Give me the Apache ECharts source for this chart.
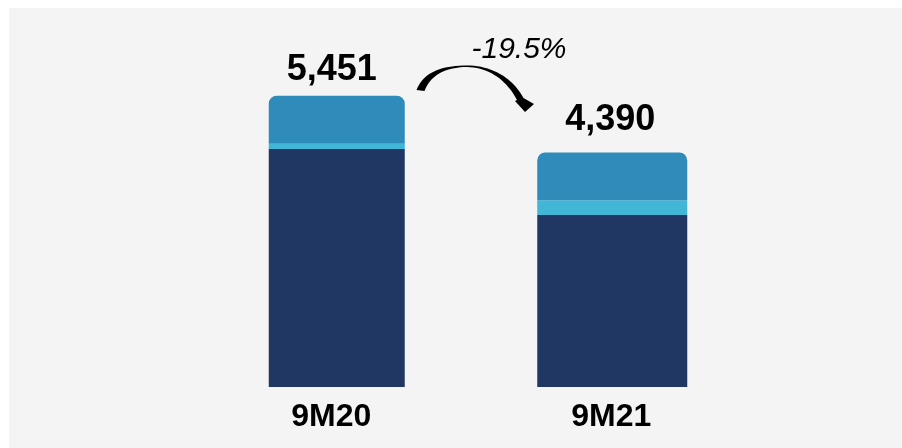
<!DOCTYPE html>
<html>
<head>
<meta charset="utf-8">
<script src="https://cdn.jsdelivr.net/npm/echarts@6/dist/echarts.min.js"></script>
<style>
  html, body { margin: 0; padding: 0; background: #ffffff; }
  #chart { width: 902px; height: 448px; }
</style>
</head>
<body>
<div id="chart"></div>
<script>
// ---- data ----
const categories = ['9M20', '9M21'];
const baseSegment = [4453, 3220];   // dark navy
const midSegment = [100, 276];      // light cyan
const topSegment = [898, 894];      // mid blue
const totals = [5451, 4390];
const changeLabel = '-19.5%';

// ---- styles ----
const FONT = '"Liberation Sans", Arial, sans-serif';
const colors = { base: '#213763', mid: '#41b6d6', top: '#2e8bba' };
const barWidths = [136, 150];
const labelOffsets = [[-5, -8], [-2, -14]];
const axisPads = [[0, 11, 0, 0], [0, 2, 0, 0]];

function only(arr, i) { return arr.map((v, j) => (j === i ? v : '-')); }

const series = [];
categories.forEach((c, i) => {
  series.push({
    type: 'bar', xAxisIndex: i, stack: 's' + i, barWidth: barWidths[i],
    data: only(baseSegment, i), itemStyle: { color: colors.base }, silent: true
  });
  series.push({
    type: 'bar', xAxisIndex: i, stack: 's' + i, barWidth: barWidths[i],
    data: only(midSegment, i), itemStyle: { color: colors.mid }, silent: true
  });
  series.push({
    type: 'bar', xAxisIndex: i, stack: 's' + i, barWidth: barWidths[i],
    data: only(topSegment, i),
    itemStyle: { color: colors.top, borderRadius: [8, 8, 0, 0] },
    silent: true,
    label: {
      show: true, position: 'top', distance: 0, offset: labelOffsets[i],
      formatter: () => totals[i].toLocaleString('en-US'),
      fontFamily: FONT, fontSize: 36, fontWeight: 'bold', color: '#000'
    }
  });
});

function xAxisFor(i) {
  return {
    type: 'category', data: categories, position: 'bottom',
    axisLine: { show: false }, axisTick: { show: false }, splitLine: { show: false },
    axisLabel: {
      margin: 14, fontFamily: FONT, fontSize: 32, fontWeight: 'bold', color: '#000',
      padding: axisPads[i],
      formatter: (v, idx) => (idx === i ? v : '')
    }
  };
}

// ---- curved arrow annotation (tapered shape sampled from cubic beziers) ----
function cubic(p0, p1, p2, p3, n) {
  const pts = [];
  for (let k = 0; k <= n; k++) {
    const t = k / n, u = 1 - t;
    pts.push([
      u*u*u*p0[0] + 3*u*u*t*p1[0] + 3*u*t*t*p2[0] + t*t*t*p3[0],
      u*u*u*p0[1] + 3*u*u*t*p1[1] + 3*u*t*t*p2[1] + t*t*t*p3[1]
    ]);
  }
  return pts;
}
const arrowPts = [].concat(
  cubic([416.5, 90], [423, 73], [440, 65.5], [467, 65.5], 20),
  cubic([467, 65.5], [491, 65.5], [512, 77], [523.5, 98], 20).slice(1),
  [[534, 104], [525, 112], [515, 101], [517, 100]],
  cubic([517, 100], [507, 81], [490, 67.5], [467, 67], 20).slice(1),
  cubic([467, 67], [444, 67.2], [430, 76], [424.5, 91], 20).slice(1)
);

const chart = echarts.init(document.getElementById('chart'), null, { renderer: 'canvas' });
chart.setOption({
  animation: false,
  backgroundColor: '#ffffff',
  grid: { left: 199, width: 551, top: 13, bottom: 61 },
  xAxis: [xAxisFor(0), xAxisFor(1)],
  yAxis: { type: 'value', min: 0, max: 7000, show: false, splitLine: { show: false } },
  series: series,
  graphic: [
    { type: 'rect', z: -10, silent: true, shape: { x: 9, y: 8, width: 893, height: 440 }, style: { fill: '#f4f4f4' } },
    {
      type: 'text', silent: true, x: 519, y: 50,
      style: { text: changeLabel, fontFamily: FONT, fontSize: 30, fontStyle: 'italic', fill: '#000', textAlign: 'center', textVerticalAlign: 'middle' }
    },
    { type: 'polygon', silent: true, shape: { points: arrowPts }, style: { fill: '#000' } }
  ]
});
</script>
</body>
</html>
